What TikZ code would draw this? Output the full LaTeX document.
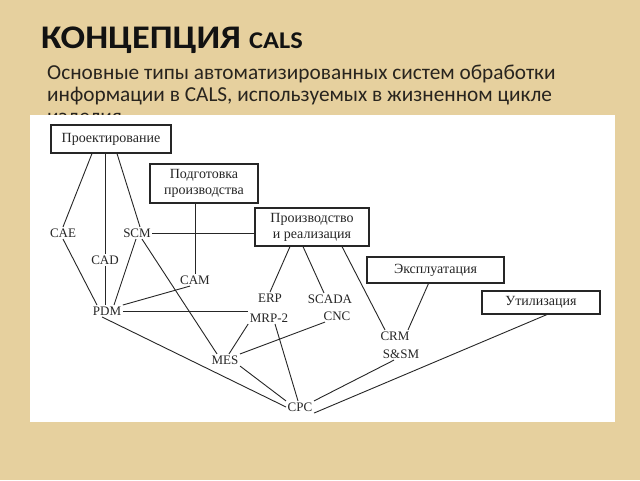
\documentclass[tikz,border=0pt]{standalone}
\usepackage{fontspec}
\setmainfont{Liberation Serif}
\newfontfamily\calsfont{Carlito}
\usepackage{tikz}
\usetikzlibrary{positioning}
\definecolor{calsPaper}{RGB}{230,208,158}
\definecolor{calsLine}{RGB}{38,38,38}
\definecolor{calsTitle}{RGB}{18,18,18}
\definecolor{calsText}{RGB}{40,36,30}
\tikzset{
  stagebox/.style={rectangle, draw=calsLine, line width=1.1pt, fill=white, align=center,
    font=\fontsize{14}{16}\selectfont, text=calsLine, inner sep=2pt},
  sysnode/.style={font=\fontsize{13}{15}\selectfont, text=calsLine, inner sep=1.5pt},
  linkline/.style={draw=calsLine, line width=0.9pt},
  headline/.style={anchor=base west, font=\calsfont\bfseries, text=calsTitle, inner sep=0pt},
  subline/.style={anchor=base west, font=\calsfont\fontsize{21.3}{23}\selectfont, text=calsText, inner sep=0pt},
}

\begin{document}
\begin{tikzpicture}[x=1pt, y=-1pt]
  \fill[calsPaper] (0,0) rectangle (640,480);
  \useasboundingbox (0,0) rectangle (640,480);

  % heading
  \node[headline] (title) at (41,48)
    {\scalebox{1.1}[1]{\fontsize{33}{33}\selectfont КОНЦЕПЦИЯ {\fontsize{24}{24}\selectfont CALS}}};
  \node[subline] (sub1) at (47,79) {Основные типы автоматизированных систем обработки};
  \node[subline] (sub2) at (47,101) {информации в CALS, используемых в жизненном цикле};
  \node[subline] (sub3) at (47,123) {изделия};

  % figure panel
  \fill[white] (30,115) rectangle (615,422);

  % life cycle stages
  \node[stagebox, minimum width=120pt, minimum height=28pt] (proj) at (111,139) {Проектирование};
  \node[stagebox, minimum width=108pt, minimum height=39pt] (prep) at (204,183.5) {Подготовка\\производства};
  \node[stagebox, minimum width=114pt, minimum height=38pt] (prod) at (312,227) {Производство\\и реализация};
  \node[stagebox, minimum width=137pt, minimum height=26pt] (expl) at (435.5,270) {Эксплуатация};
  \node[stagebox, minimum width=118pt, minimum height=23pt] (util) at (541,302.5) {Утилизация};

  % systems
  \node[sysnode] (cae) at (63,233) {CAE};
  \node[sysnode] (scm) at (137,233) {SCM};
  \node[sysnode] (cad) at (105,260) {CAD};
  \node[sysnode] (cam) at (195,280) {CAM};
  \node[sysnode] (pdm) at (107,311) {PDM};
  \node[sysnode] (erp) at (270,298) {ERP};
  \node[sysnode] (mrp) at (269,318) {MRP-2};
  \node[sysnode] (scada) at (330,299) {SCADA};
  \node[sysnode] (cnc) at (337,316) {CNC};
  \node[sysnode] (mes) at (225,360) {MES};
  \node[sysnode] (cpc) at (300,407) {CPC};
  \node[sysnode] (crm) at (395,336) {CRM};
  \node[sysnode] (ssm) at (401,354) {S\&SM};

  % links
  \draw[linkline] ([xshift=-19pt]proj.south) -- (cae.north);
  \draw[linkline] (proj.south -| cad.north) -- (cad.north);
  \draw[linkline] ([xshift=6pt]proj.south) -- ([xshift=3pt]scm.north);
  \draw[linkline] (scm.east) -- (scm.east -| prod.west);
  \draw[linkline] (prep.south -| cam.north) -- (cam.north);
  \draw[linkline] (cae.south) -- ([xshift=-10pt]pdm.north);
  \draw[linkline] (cad.south) -- (cad.south |- pdm.north);
  \draw[linkline] ([xshift=-1pt]scm.south) -- ([xshift=7pt]pdm.north);
  \draw[linkline] ([xshift=5pt]scm.south) -- ([xshift=-8pt]mes.north);
  \draw[linkline] ([xshift=-5pt]cam.south) -- (pdm.north east);
  \draw[linkline] (pdm.east) -- (pdm.east -| mrp.west);
  \draw[linkline] ([xshift=-5pt]pdm.south) -- (cpc.west);
  \draw[linkline] ([xshift=-22pt]prod.south) -- (erp.north);
  \draw[linkline] ([xshift=-9pt]prod.south) -- ([xshift=-6pt]scada.north);
  \draw[linkline] ([xshift=30pt]prod.south) -- ([xshift=-10pt]crm.north);
  \draw[linkline] ([xshift=-7pt]expl.south) -- ([xshift=13pt]crm.north);
  \draw[linkline] (mrp.south west) -- ([xshift=4pt]mes.north);
  \draw[linkline] ([xshift=-12pt]cnc.south) -- (mes.north east);
  \draw[linkline] ([xshift=6pt]mrp.south) -- ([xshift=-2pt]cpc.north);
  \draw[linkline] (mes.south east) -- (cpc.north west);
  \draw[linkline] ([xshift=-7pt]ssm.south) -- (cpc.north east);
  \draw[linkline] ([xshift=6pt]util.south) -- (cpc.south east);
\end{tikzpicture}
\end{document}
